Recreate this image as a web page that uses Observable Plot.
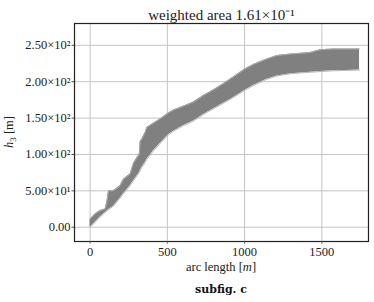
<!DOCTYPE html>
<html><head><meta charset="utf-8">
<script src="https://cdn.jsdelivr.net/npm/d3@7"></script>
<script src="https://cdn.jsdelivr.net/npm/@observablehq/plot@0.6"></script>
<style>
body{margin:0;background:#fff;}
#c{width:374px;}
#c svg{display:block;}
.cap{font-family:"DejaVu Serif",serif;font-weight:bold;font-size:11px;text-align:center;width:374px;padding-left:68px;box-sizing:border-box;margin-top:7px;color:#111;}
</style></head><body><div id="c"></div><script>
const arcLength = [0, 30, 65, 97, 108, 119, 151, 194, 216, 259, 281, 302, 318, 324, 335, 356, 367, 410, 475, 507, 540, 600, 669, 734, 800, 860, 910, 1000, 1060, 1140, 1210, 1300, 1425, 1490, 1576, 1660, 1744];
const upperH =    [11, 18, 23, 25, 34, 50, 50, 57, 66, 73, 88, 95, 100, 118, 121, 130, 137, 143, 152, 157, 161, 166, 172, 181, 189, 197, 204, 217, 224, 231, 236, 238, 240, 244, 245, 245, 245];
const lowerH =    [0, 6, 14, 20, 22, 24, 29, 40, 46, 57, 64, 70, 75, 78, 82, 89, 93, 105, 120, 127, 132, 139, 146, 155, 163, 170, 176, 188, 195, 203, 208, 211, 213, 214, 215, 215.5, 216];
const xTicks = [0, 500, 1000, 1500];
const yTicks = [0, 50, 100, 150, 200, 250];
const yTickLabels = ["0.00", "5.00×10¹", "1.00×10²", "1.50×10²", "2.00×10²", "2.50×10²"];
const title = "weighted area 1.61×10⁻¹";
const caption = "subfig. c";

const data = arcLength.map((x, i) => ({x, lo: lowerH[i], hi: upperH[i]}));
const font = "'Liberation Serif', serif";
const plot = Plot.plot({
  width: 374, height: 276,
  marginLeft: 74, marginRight: 6, marginTop: 23, marginBottom: 35,
  style: {fontFamily: font, fontSize: "12.5px", background: "#fff", color: "#222"},
  x: {domain: [-101, 1802], label: null},
  y: {domain: [-19.6, 280], label: null},
  marks: [
    Plot.gridX(xTicks, {stroke: "#c4c4c4", strokeOpacity: 1, strokeWidth: 1}),
    Plot.gridY(yTicks, {stroke: "#c4c4c4", strokeOpacity: 1, strokeWidth: 1}),
    Plot.areaY(data, {x: "x", y1: "lo", y2: "hi", fill: "#808080"}),
    Plot.lineY(data, {x: "x", y: "hi", stroke: "#b0b0b0", strokeWidth: 0.9}),
    Plot.lineY(data, {x: "x", y: "lo", stroke: "#b0b0b0", strokeWidth: 0.9}),
    Plot.frame({stroke: "#222", strokeWidth: 1.2}),
    Plot.axisX(xTicks, {tickSize: 2.5, tickPadding: 3, stroke: "#555", label: null, fill: "#222", tickFormat: d => String(d)}),
    Plot.axisY(yTicks, {tickSize: 2.5, tickPadding: 1.5, stroke: "#555", label: null, fill: "#222", tickFormat: (d) => yTickLabels[yTicks.indexOf(d)]}),
    Plot.text([title], {frameAnchor: "top", lineAnchor: "bottom", dy: -4, fontSize: 15, fill: "#222"})
  ]
});
const svg = d3.select(plot);
// x axis label
const xl = svg.append("text").attr("x", 221).attr("y", 271).attr("text-anchor", "middle")
  .attr("font-family", font).attr("font-size", 12.5).attr("fill", "#222");
xl.append("tspan").text("arc length [");
xl.append("tspan").attr("font-style", "italic").text("m");
xl.append("tspan").text("]");
// y axis label
const yl = svg.append("text").attr("transform", "translate(13,132) rotate(-90)").attr("text-anchor", "middle")
  .attr("font-family", font).attr("font-size", 12.5).attr("fill", "#222");
yl.append("tspan").attr("font-style", "italic").text("h");
yl.append("tspan").attr("font-size", 9).attr("dy", 2.5).text("3");
yl.append("tspan").attr("dy", -2.5).text(" [m]");
document.getElementById("c").appendChild(plot);
const cap = document.createElement("div");
cap.className = "cap";
cap.textContent = caption;
document.getElementById("c").appendChild(cap);
</script></body></html>
